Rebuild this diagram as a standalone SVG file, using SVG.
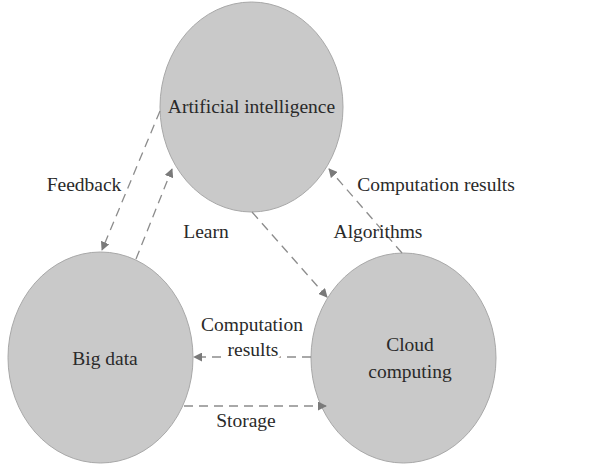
<svg xmlns="http://www.w3.org/2000/svg" width="598" height="466" viewBox="0 0 598 466">
<style>
.node{fill:#c9c9c9;stroke:#a8a8a8;stroke-width:1}
.lbl{font-family:"Liberation Serif","Times New Roman",serif;font-size:19.5px;fill:#2a2a2a;text-anchor:middle}
.edge{fill:none;stroke:#8c8c8c;stroke-width:1.3;stroke-dasharray:9,6}
.mask{stroke:#fff;stroke-width:6;paint-order:stroke}
</style>
<defs>
<marker id="arr" viewBox="0 0 10 10" refX="9" refY="5" markerWidth="9" markerHeight="9" markerUnits="userSpaceOnUse" orient="auto">
<path d="M0,0 L10,5 L0,10 z" fill="#7a7a7a"/>
</marker>
</defs>
<rect width="598" height="466" fill="#fff"/>
<g id="ai"><ellipse class="node" cx="251.5" cy="107" rx="91.5" ry="105"/><text class="lbl" x="251.5" y="113">Artificial intelligence</text></g>
<g id="bigdata"><ellipse class="node" cx="100.5" cy="357.5" rx="92.5" ry="105.5"/><text class="lbl" x="105" y="365">Big data</text></g>
<g id="cloud"><ellipse class="node" cx="403.5" cy="358" rx="92.5" ry="105"/><text class="lbl" x="410" y="351">Cloud</text><text class="lbl" x="410" y="378">computing</text></g>
<g id="connectors">
<path class="edge" d="M160,111 L102,250" marker-end="url(#arr)"/>
<path class="edge" d="M136,259 L172,169" marker-end="url(#arr)"/>
<path class="edge" d="M252,212 L327,297" marker-end="url(#arr)"/>
<path class="edge" d="M402,253 L329,169" marker-end="url(#arr)"/>
<path class="edge" d="M311,357 L194,357" marker-end="url(#arr)"/>
<path class="edge" d="M184,406 L326,406" marker-end="url(#arr)"/>
<text class="lbl" x="84" y="191">Feedback</text>
<text class="lbl" x="206" y="238">Learn</text>
<text class="lbl" x="378" y="238">Algorithms</text>
<text class="lbl" x="436" y="191">Computation results</text>
<text class="lbl" x="252" y="331">Computation</text>
<text class="lbl mask" x="253" y="356">results</text>
<text class="lbl" x="246" y="427">Storage</text>
</g>
</svg>
